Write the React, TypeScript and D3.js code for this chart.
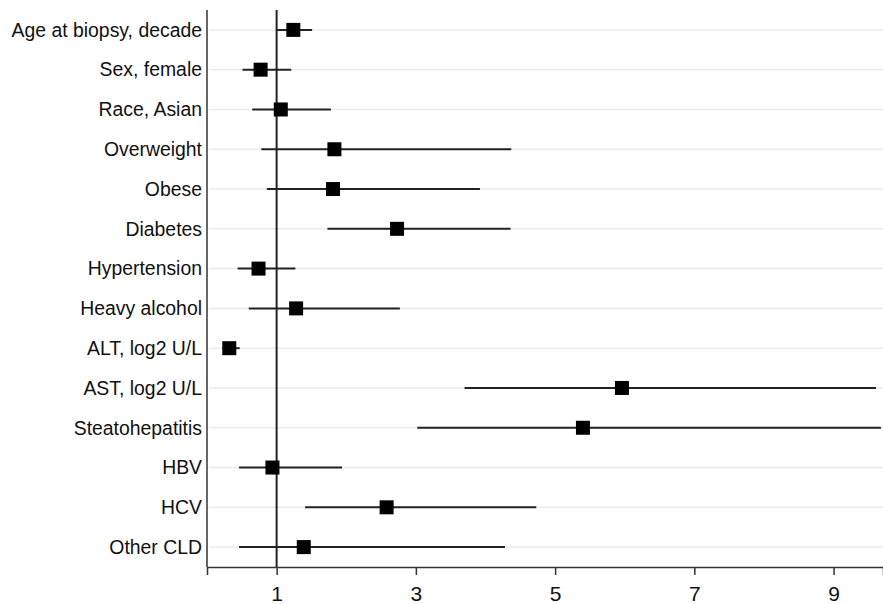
import React, { useRef, useEffect } from 'react';
import * as d3 from 'd3';

// variables, top to bottom
const labels = [
  'Age at biopsy, decade',
  'Sex, female',
  'Race, Asian',
  'Overweight',
  'Obese',
  'Diabetes',
  'Hypertension',
  'Heavy alcohol',
  'ALT, log2 U/L',
  'AST, log2 U/L',
  'Steatohepatitis',
  'HBV',
  'HCV',
  'Other CLD',
];
const estimates = [1.24, 0.77, 1.06, 1.83, 1.81, 2.73, 0.74, 1.28, 0.32, 5.96, 5.4, 0.94, 2.58, 1.39];
const lower = [1.0, 0.51, 0.65, 0.78, 0.86, 1.73, 0.44, 0.6, 0.22, 3.7, 3.02, 0.46, 1.41, 0.46];
const upper = [1.51, 1.21, 1.78, 4.37, 3.92, 4.36, 1.27, 2.77, 0.47, 9.61, 9.68, 1.94, 4.73, 4.28];
const xTicks = [1, 3, 5, 7, 9];

const width = 883;
const height = 604;
const left = 207;
const top = 10;
const bottom = 567;

const App = () => {
  const svgRef = useRef<SVGSVGElement>(null);

  useEffect(() => {
    const svg = d3.select(svgRef.current);
    svg.selectAll('*').remove();

    const x = d3.scaleLinear().domain([0, 9.71]).range([left, width]);
    const y = d3.scalePoint<string>().domain(labels).range([top, bottom]).padding(0.5);

    const rows = labels.map((label, i) => ({
      label,
      est: estimates[i],
      lo: lower[i],
      hi: upper[i],
    }));

    // light grid lines per row
    svg.append('g')
      .selectAll('line')
      .data(labels)
      .join('line')
      .attr('x1', left + 2)
      .attr('x2', width)
      .attr('y1', d => y(d)!)
      .attr('y2', d => y(d)!)
      .attr('stroke', '#ebebeb')
      .attr('stroke-width', 1.5);

    // row labels
    svg.append('g')
      .selectAll('text')
      .data(labels)
      .join('text')
      .attr('x', left - 5)
      .attr('y', d => y(d)!)
      .attr('dy', '0.35em')
      .attr('text-anchor', 'end')
      .attr('font-family', 'Arial, "Liberation Sans", sans-serif')
      .attr('font-size', 19.4)
      .attr('fill', '#111')
      .text(d => d);

    // x axis
    const axis = svg.append('g')
      .attr('transform', `translate(0,${bottom})`)
      .call(d3.axisBottom(x).tickValues(xTicks).tickSize(8).tickPadding(11).tickFormat(d3.format('d')));
    axis.select('.domain').attr('stroke', '#333').attr('stroke-width', 1.5);
    axis.selectAll('.tick line').attr('stroke', '#333').attr('stroke-width', 1.5);
    axis.selectAll('.tick text')
      .attr('font-family', 'Arial, "Liberation Sans", sans-serif')
      .attr('font-size', 21)
      .attr('fill', '#111');

    // left axis line
    svg.append('line')
      .attr('x1', left).attr('x2', left)
      .attr('y1', top).attr('y2', bottom)
      .attr('stroke', '#333').attr('stroke-width', 1.5);

    // reference line at 1
    svg.append('line')
      .attr('x1', x(1)).attr('x2', x(1))
      .attr('y1', top).attr('y2', bottom)
      .attr('stroke', '#222').attr('stroke-width', 2);

    // confidence intervals
    svg.append('g')
      .selectAll('line')
      .data(rows)
      .join('line')
      .attr('x1', d => x(d.lo))
      .attr('x2', d => x(d.hi))
      .attr('y1', d => y(d.label)!)
      .attr('y2', d => y(d.label)!)
      .attr('stroke', '#222')
      .attr('stroke-width', 2);

    // point estimates
    const s = 14;
    svg.append('g')
      .selectAll('rect')
      .data(rows)
      .join('rect')
      .attr('x', d => x(d.est) - s / 2)
      .attr('y', d => y(d.label)! - s / 2)
      .attr('width', s)
      .attr('height', s)
      .attr('fill', '#000');
  }, []);

  return (
    <svg
      ref={svgRef}
      width={width}
      height={height}
      style={{ position: 'absolute', left: 0, top: 0, background: '#fff' }}
    />
  );
};

export default App;
